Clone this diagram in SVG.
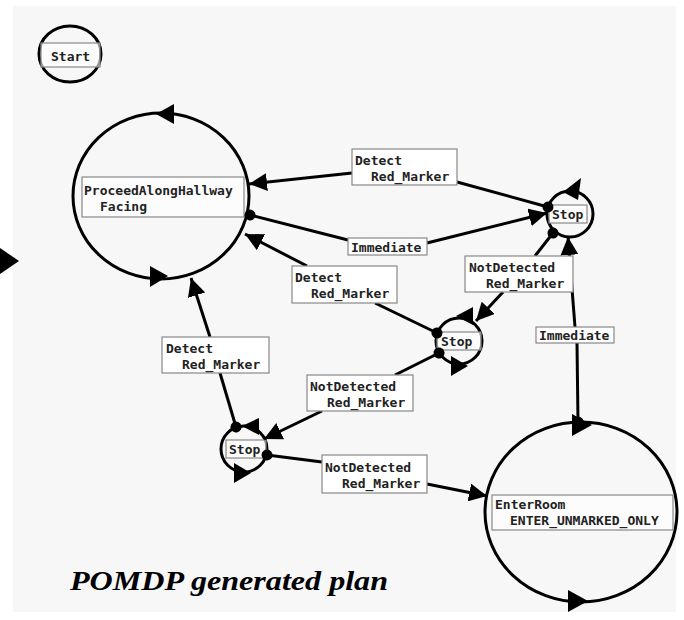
<svg xmlns="http://www.w3.org/2000/svg" width="684" height="620" viewBox="0 0 684 620">
<defs>
<style>
.node{fill:none;stroke:#000;stroke-width:3}
.lbl{fill:#fff;stroke:#888;stroke-width:1.2}
.nlbl{fill:#fff;fill-opacity:0.6;stroke:#888;stroke-width:1.2}
.t{font-family:"DejaVu Sans Mono","Liberation Mono",monospace;font-size:13px;font-weight:bold;fill:#222}
.e{fill:none;stroke:#000;stroke-width:3}
.src{marker-start:url(#dot)}
.dst{marker-end:url(#arr)}
.ah{fill:#000}
</style>
<marker id="arr" markerUnits="userSpaceOnUse" markerWidth="20" markerHeight="18" refX="18" refY="9" orient="auto">
<path d="M0,0 L18,9 L0,18 z" fill="#000"/>
</marker>
<marker id="dot" markerUnits="userSpaceOnUse" markerWidth="12" markerHeight="12" refX="6" refY="6" orient="auto">
<circle cx="6" cy="6" r="5.5" fill="#000"/>
</marker>
</defs>
<rect x="0" y="0" width="684" height="620" fill="#fff"/>
<rect x="13" y="6" width="663" height="606" fill="#f7f7f7"/>
<polygon class="ah" points="0,248 19,261 0,274"/>

<g id="start">
<ellipse class="node" cx="70" cy="54" rx="31" ry="28"/>
<rect class="nlbl" x="41" y="43" width="59" height="24"/>
<text class="t" x="51" y="61">Start</text>
</g>

<g id="proceed">
<ellipse class="node" cx="161" cy="196" rx="88" ry="83"/>
<rect class="nlbl" x="82" y="177" width="162" height="40"/>
<text class="t" x="84" y="195">ProceedAlongHallway</text>
<text class="t" x="100" y="211">Facing</text>
<polygon class="ah" points="156,114 174,104 174,124"/>
<polygon class="ah" points="150,266 168,276 150,287"/>
</g>

<g id="stop-tr">
<circle class="node" cx="570" cy="214" r="23"/>
<rect class="nlbl" x="549" y="205" width="38" height="18"/>
<text class="t" x="552" y="219">Stop</text>
<polygon class="ah" points="563,192 581,178 578,200"/>
</g>

<g id="stop-mid">
<circle class="node" cx="459" cy="341" r="23"/>
<rect class="nlbl" x="437" y="332" width="44" height="18"/>
<text class="t" x="441" y="346">Stop</text>
<polygon class="ah" points="456,316 473,307 473,325"/>
<polygon class="ah" points="451,356 468,366 451,376"/>
</g>

<g id="stop-bl">
<circle class="node" cx="244" cy="449" r="23"/>
<rect class="nlbl" x="226" y="440" width="40" height="18"/>
<text class="t" x="229" y="454">Stop</text>
<polygon class="ah" points="242,426 259,418 259,435"/>
<polygon class="ah" points="234,463 251,473 234,483"/>
</g>

<g id="enterroom">
<ellipse class="node" cx="581" cy="512" rx="96" ry="90"/>
<rect class="nlbl" x="492" y="495" width="181" height="35"/>
<text class="t" x="495" y="509">EnterRoom</text>
<text class="t" x="510" y="525">ENTER_UNMARKED_ONLY</text>
<polygon class="ah" points="572,414 592,425 572,436"/>
<polygon class="ah" points="568,590 588,601 568,612"/>
</g>

<g id="connectors">
<!-- Stop TR -> Proceed (Detect) -->
<polyline class="e src" points="548,207 457,182"/>
<polyline class="e dst" points="352,173 249,184"/>
<!-- Proceed -> Stop TR (Immediate) -->
<polyline class="e src" points="250,215 348,240"/>
<polyline class="e dst" points="427,243 547,213"/>
<!-- Stop mid -> Proceed (Detect) -->
<polyline class="e src" points="437,333 375,303"/>
<polyline class="e dst" points="307,266 245,234"/>
<!-- Stop TR -> Stop mid (NotDetected) -->
<polyline class="e src" points="553,233 535,256"/>
<polyline class="e dst" points="503,292 476,321"/>
<!-- Stop mid -> Stop BL (NotDetected) -->
<polyline class="e src" points="439,353 395,375"/>
<polyline class="e dst" points="322,411 264,439"/>
<!-- Stop BL -> Proceed (Detect) -->
<polyline class="e src" points="236,427 220,373"/>
<polyline class="e dst" points="210,337 191,278"/>
<!-- Stop BL -> EnterRoom (NotDetected) -->
<polyline class="e src" points="267,455 322,462"/>
<polyline class="e dst" points="427,484 487,496"/>
<!-- EnterRoom -> Stop TR (Immediate) -->
<polyline class="e src" points="578,422 577,343"/>
<polyline class="e dst" points="575,327 568,237"/>

<g id="edge-labels">
<rect class="lbl" x="352" y="149" width="105" height="36"/>
<text class="t" x="355" y="165">Detect</text>
<text class="t" x="371" y="181">Red_Marker</text>

<rect class="lbl" x="348" y="238" width="79" height="17"/>
<text class="t" x="351" y="252">Immediate</text>

<rect class="lbl" x="292" y="266" width="105" height="37"/>
<text class="t" x="295" y="282">Detect</text>
<text class="t" x="311" y="298">Red_Marker</text>

<rect class="lbl" x="465" y="256" width="108" height="36"/>
<text class="t" x="469" y="272">NotDetected</text>
<text class="t" x="486" y="288">Red_Marker</text>

<rect class="lbl" x="307" y="375" width="106" height="36"/>
<text class="t" x="310" y="391">NotDetected</text>
<text class="t" x="327" y="407">Red_Marker</text>

<rect class="lbl" x="162" y="337" width="107" height="36"/>
<text class="t" x="166" y="353">Detect</text>
<text class="t" x="182" y="369">Red_Marker</text>

<rect class="lbl" x="322" y="455" width="105" height="38"/>
<text class="t" x="325" y="472">NotDetected</text>
<text class="t" x="342" y="488">Red_Marker</text>

<rect class="lbl" x="536" y="327" width="78" height="16"/>
<text class="t" x="539" y="340">Immediate</text>
</g>
</g>

<text x="70" y="590" font-family="Liberation Serif, serif" font-weight="bold" font-style="italic" font-size="28" textLength="318" lengthAdjust="spacingAndGlyphs">POMDP generated plan</text>
</svg>
